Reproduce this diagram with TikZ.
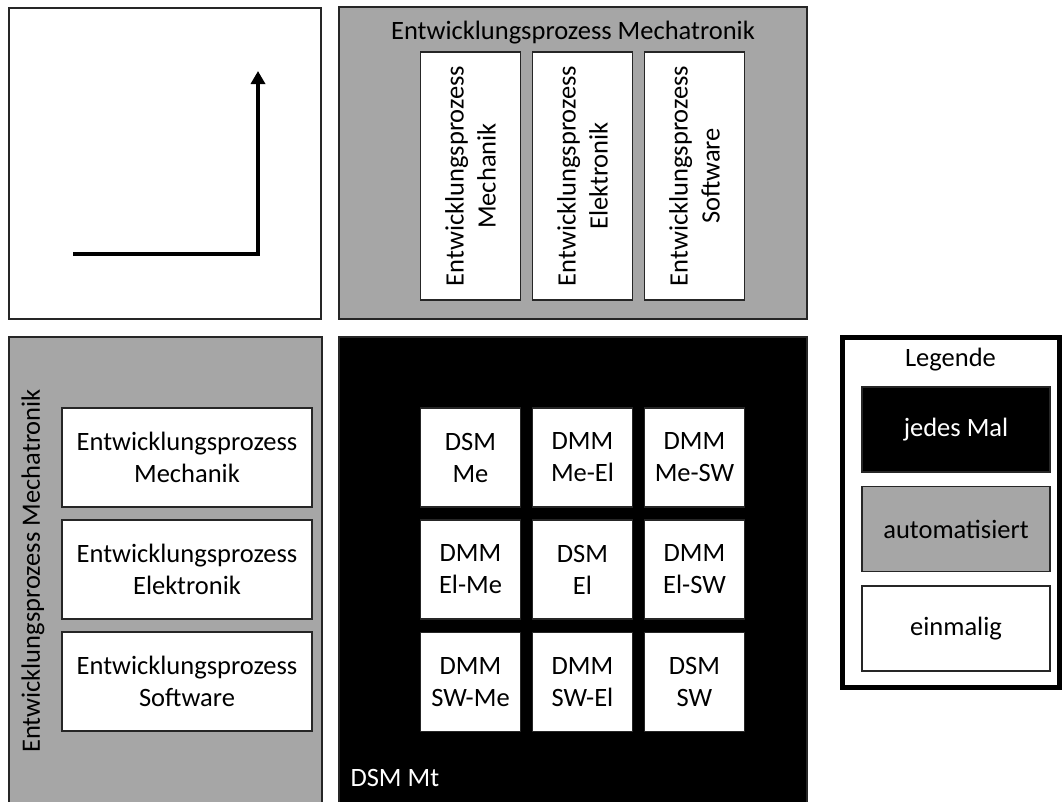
\documentclass[tikz,border=0pt]{standalone}
\usepackage{fontspec}
\setmainfont{Carlito}
\usetikzlibrary{positioning,arrows.meta}

\definecolor{boxgray}{RGB}{166,166,166}

\tikzset{%
  every box/.style={
    draw=black!85,
    line width=1.5pt,
    inner sep=0pt,
    align=center,
    font=\fontsize{26.5}{32}\selectfont
  },
  box white/.style={fill=white},
  box gray/.style={fill=boxgray},
  box black/.style={fill=black, text=white},
  cell/.style={minimum width=100pt, minimum height=99pt},
  big label/.style={font=\fontsize{26.5}{32}\selectfont},
}

\begin{document}
\begin{tikzpicture}[x=1pt, y=-1pt, >=stealth]

\useasboundingbox (0,0) rectangle (1062,801);

% the four quadrants
\node [every box, box white, minimum width=312, minimum height=311] (view) at (165,163.5) {};
\node [every box, box gray,  minimum width=468, minimum height=312] (mech-top) at (573,163) {};
\node [every box, box gray,  minimum width=313, minimum height=480] (mech-left) at (165.5,577) {};
\node [every box, box black, minimum width=468, minimum height=480] (dsm) at (573,577) {};

% arrow in the empty view
\coordinate (arr-start)  at (73,254);
\coordinate (arr-corner) at (258,254);
\coordinate (arr-end)    at (258,71);
\draw [line width=4pt, -{Triangle[length=13pt,width=14pt]}]
  (arr-start) -- (arr-corner) -- (arr-end);

% top: processes side by side
\node [big label] (title-top) at (573,33) {Entwicklungsprozess Mechatronik};
\foreach \l [count=\i] in {Mechanik,Elektronik,Software}
  \node [every box, box white, minimum width=248, minimum height=100, rotate=90]
    (top-\i) at (358.5+\i*112,176) {Entwicklungsprozess\\\l};

% left: processes stacked
\node [big label, rotate=90] (title-left) at (33,571) {Entwicklungsprozess Mechatronik};
\foreach \l [count=\i] in {Mechanik,Elektronik,Software}
  \node [every box, box white, minimum width=250, minimum height=99]
    (left-\i) at (187,345.5+\i*112) {Entwicklungsprozess\\\l};

% dsm / dmm matrix
\foreach \a/\b [count=\i] in {DSM/Me,DMM/Me-El,DMM/Me-SW}
  \node [every box, box white, cell] (cell-1-\i) at (358.5+\i*112,457.5) {\a\\\b};
\foreach \a/\b [count=\i] in {DMM/El-Me,DSM/El,DMM/El-SW}
  \node [every box, box white, cell] (cell-2-\i) at (358.5+\i*112,569.5) {\a\\\b};
\foreach \a/\b [count=\i] in {DMM/SW-Me,DMM/SW-El,DSM/SW}
  \node [every box, box white, cell] (cell-3-\i) at (358.5+\i*112,682) {\a\\\b};

\node [big label, text=white, anchor=base west] (dsm-label) at (347,786) {DSM Mt};

% legend
\node [every box, draw=black, line width=5pt, box white, minimum width=217, minimum height=350]
  (legend) at (950.5,512) {};
\node [big label] (legend-title) at (950.5,360) {Legende};
\foreach \s/\l [count=\i] in {black/jedes Mal,gray/automatisiert,white/einmalig}
  \node [every box, box \s, minimum width=188, minimum height=85]
    (legend-\i) at (956,330+\i*99.5) {\l};

\end{tikzpicture}
\end{document}
